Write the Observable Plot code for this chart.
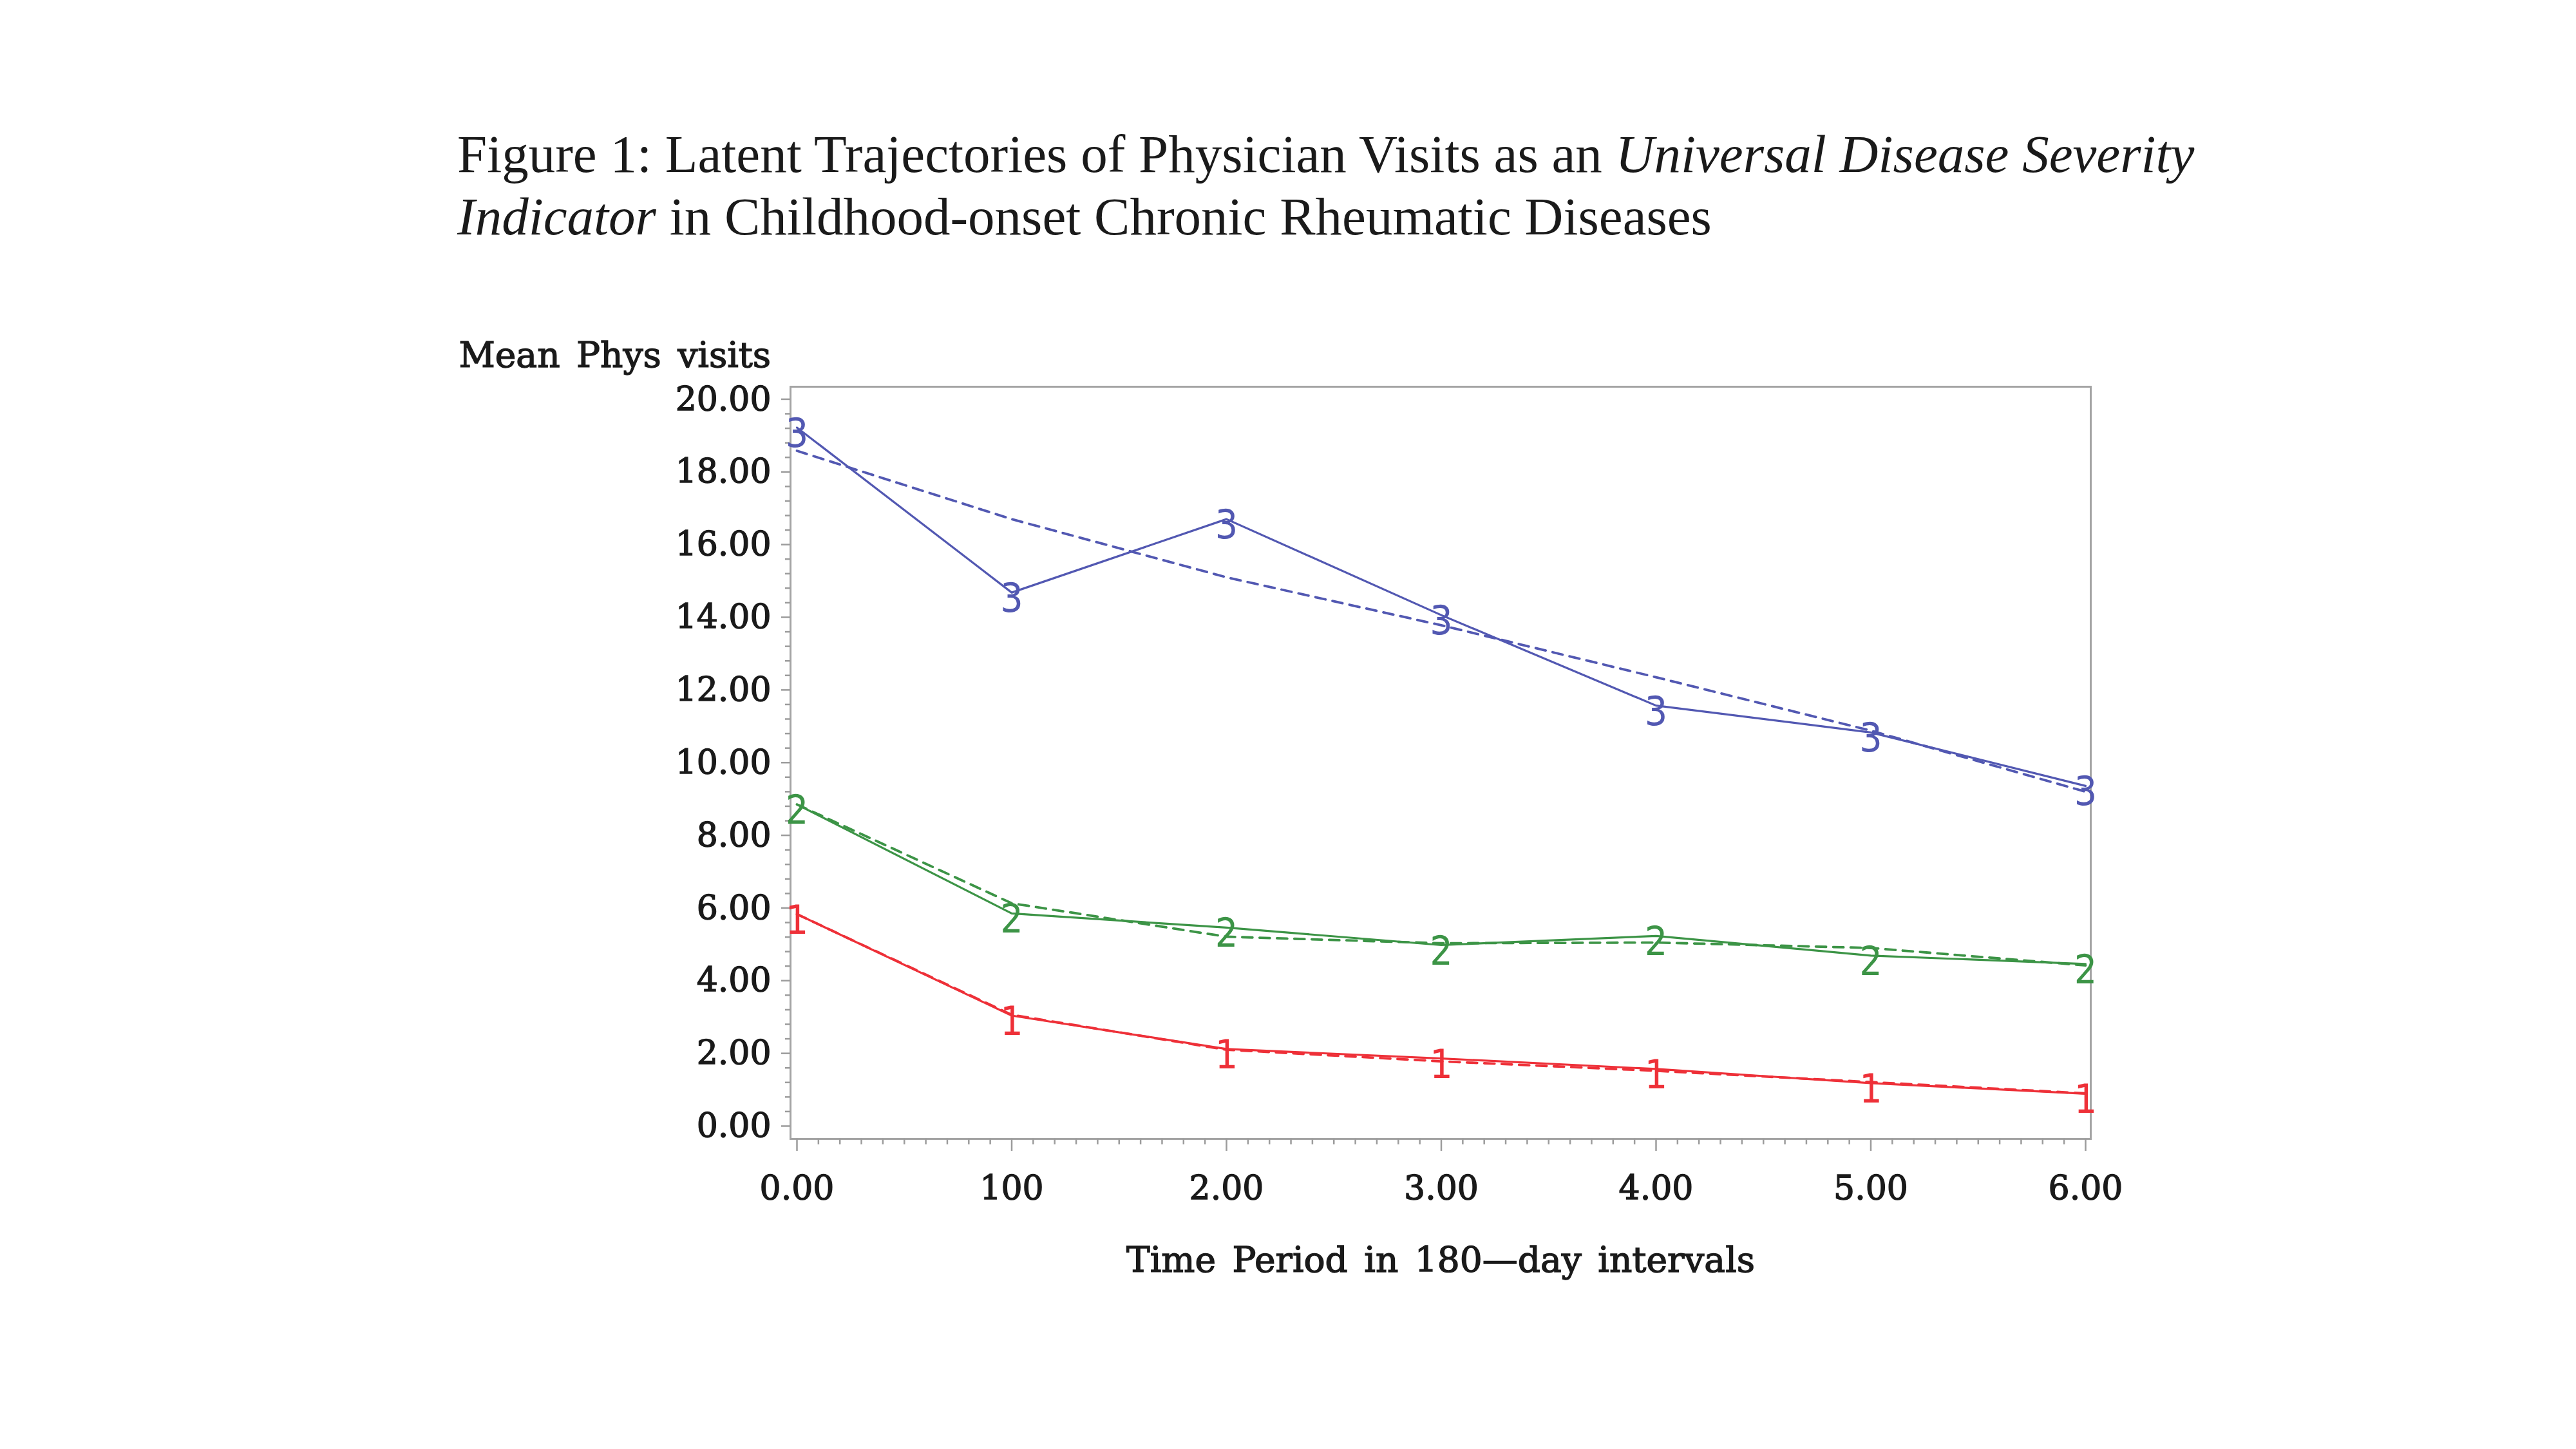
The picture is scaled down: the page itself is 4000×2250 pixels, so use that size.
<!DOCTYPE html>
<html>
<head>
<meta charset="utf-8">
<script src="https://cdn.jsdelivr.net/npm/d3@7"></script>
<script src="https://cdn.jsdelivr.net/npm/@observablehq/plot@0.6"></script>
<style>
  html, body { margin: 0; padding: 0; background: #fff; }
  #page { position: relative; width: 4000px; height: 2250px; overflow: hidden; background: #fff; }
  #title { position: absolute; left: 710px; top: 191px; font-family: "Liberation Serif", "Times New Roman", serif;
           font-size: 83px; line-height: 97px; color: #1a1a1a; white-space: nowrap; z-index: 2; }
  #chart { position: absolute; left: 0; top: 0; }
  #chart svg .axislabel text { stroke: #1a1a1a; stroke-width: 1.4px; }
  #chart svg .axistitle text { stroke: #1a1a1a; stroke-width: 1.4px; word-spacing: 8px; }
</style>
</head>
<body>
<div id="page">
  <div id="title">
    <div>Figure 1: Latent Trajectories of Physician Visits as an <i>Universal Disease Severity</i></div>
    <div><i>Indicator</i> in Childhood-onset Chronic Rheumatic Diseases</div>
  </div>
  <div id="chart"></div>
</div>
<script>
// ---- data ----
const times = [0, 1, 2, 3, 4, 5, 6];
const groups = ["1", "2", "3"];
const observed1 = [5.83, 3.04, 2.12, 1.86, 1.57, 1.18, 0.89];
const predicted1 = [5.83, 3.06, 2.10, 1.78, 1.52, 1.21, 0.90];
const observed2 = [8.85, 5.85, 5.46, 4.98, 5.23, 4.69, 4.46];
const predicted2 = [8.85, 6.13, 5.21, 5.03, 5.05, 4.90, 4.42];
const observed3 = [19.22, 14.68, 16.70, 14.06, 11.57, 10.83, 9.36];
const predicted3 = [18.58, 16.70, 15.10, 13.78, 12.35, 10.88, 9.20];
const groupColors = ["#ee3038", "#3c9446", "#5258b2"];

const yTicks = [0, 2, 4, 6, 8, 10, 12, 14, 16, 18, 20];
const yTickLabels = ["0.00", "2.00", "4.00", "6.00", "8.00", "10.00", "12.00", "14.00", "16.00", "18.00", "20.00"];
const xTicks = [0, 1, 2, 3, 4, 5, 6];
const xTickLabels = ["0.00", "100", "2.00", "3.00", "4.00", "5.00", "6.00"];
const yAxisTitle = "Mean Phys visits";
const xAxisTitle = "Time Period in 180\u2014day intervals";

// ---- build table ----
const obsSets = [observed1, observed2, observed3];
const predSets = [predicted1, predicted2, predicted3];
const obsRows = [], predRows = [];
groups.forEach((g, gi) => {
  times.forEach((t, i) => {
    obsRows.push({time: t, value: obsSets[gi][i], group: g});
    predRows.push({time: t, value: predSets[gi][i], group: g});
  });
});

// minor tick values (axis decoration only)
const yMinor = d3.range(0, 20.0001, 0.4).map(v => +v.toFixed(2)).filter(v => Math.abs(v / 2 - Math.round(v / 2)) > 1e-6);
const xMinor = d3.range(0, 6.0001, 0.1).map(v => +v.toFixed(2)).filter(v => Math.abs(v - Math.round(v)) > 1e-6);

const axisFont = "'DejaVu Serif', serif";
const tickGray = "#9c9c9c";

const chart = Plot.plot({
  width: 4000,
  height: 2250,
  marginLeft: 1227,
  marginRight: 754,
  marginTop: 600,
  marginBottom: 482,
  style: {background: "transparent", overflow: "visible"},
  x: {domain: [-0.03, 6.024], axis: null},
  y: {domain: [-0.354, 20.344], axis: null},
  color: {domain: groups, range: groupColors},
  marks: [
    Plot.frame({stroke: "#a4a4a4", strokeWidth: 3}),
    // y axis
    Plot.axisY(yMinor, {anchor: "left", tickSize: 8, stroke: tickGray, strokeWidth: 2.5, fill: "none", label: null}),
    Plot.axisY(yTicks, {anchor: "left", tickSize: 14, tickPadding: 16, stroke: tickGray, strokeWidth: 2.5,
      fill: "#1a1a1a", fontSize: 52, fontFamily: axisFont, className: "axislabel", label: null,
      tickFormat: d => yTickLabels[yTicks.indexOf(d)]}),
    // x axis
    Plot.axisX(xMinor, {anchor: "bottom", tickSize: 9, stroke: tickGray, strokeWidth: 2.5, fill: "none", label: null}),
    Plot.axisX(xTicks, {anchor: "bottom", tickSize: 19, tickPadding: 38, stroke: tickGray, strokeWidth: 2.5,
      fill: "#1a1a1a", fontSize: 52, fontFamily: axisFont, className: "axislabel", label: null,
      tickFormat: d => xTickLabels[xTicks.indexOf(d)]}),
    // axis titles
    Plot.text([yAxisTitle], {frameAnchor: "top-left", text: d => d, textAnchor: "start", lineAnchor: "bottom",
      dx: -515, dy: -31, fontSize: 55, fontFamily: axisFont, className: "axistitle", fill: "#1a1a1a"}),
    Plot.text([xAxisTitle], {frameAnchor: "bottom", text: d => d, textAnchor: "middle", lineAnchor: "bottom",
      dy: 206, fontSize: 55, fontFamily: axisFont, className: "axistitle", fill: "#1a1a1a"}),
    // predicted (dashed) trajectories
    Plot.line(predRows, {x: "time", y: "value", z: "group", stroke: "group", strokeWidth: 3.8,
      strokeDasharray: "16,11", curve: "linear"}),
    // observed (solid) trajectories
    Plot.line(obsRows, {x: "time", y: "value", z: "group", stroke: "group", strokeWidth: 3.2, curve: "linear"}),
    // group number symbols at observed points
    Plot.text(obsRows, {x: "time", y: "value", text: "group", fill: "group", textAnchor: "middle", lineAnchor: "top",
      dy: -14, fontSize: 62, fontFamily: "'Liberation Sans Narrow', 'DejaVu Sans Condensed', 'Liberation Sans', sans-serif"})
  ]
});
document.getElementById("chart").appendChild(chart);
</script>
</body>
</html>
